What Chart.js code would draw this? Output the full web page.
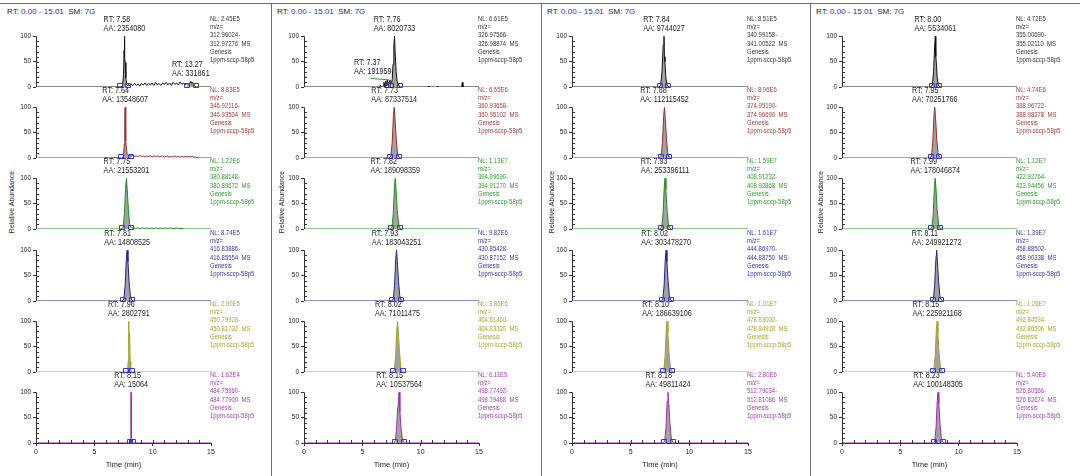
<!DOCTYPE html>
<html>
<head>
<meta charset="utf-8">
<title>SCCP chromatograms</title>
<script src="https://cdn.jsdelivr.net/npm/chart.js@4.4.1/dist/chart.umd.min.js"></script>
<style>
  html, body { margin: 0; padding: 0; background: #fff; }
  body { position: relative; width: 1080px; height: 476px; overflow: hidden;
         font-family: "Liberation Sans", Arial, sans-serif; }
  .plot { position: absolute; }
  .hdr { position: absolute; top: 7px; font-size: 8px; line-height: 10px; color: #222; white-space: nowrap; }
  .hdr span { color: #2b2bbf; }
  .ylab { position: absolute; width: 100px; height: 10px; line-height: 10px; font-size: 7px; color: #222;
          text-align: center; transform: rotate(-90deg); white-space: nowrap; }
  .sep { position: absolute; background: #6f6f6f; }
</style>
</head>
<body>
<script>
const rtWindow = "0.00 - 15.01";
const smoothing = "7G";
const sampleName = "1ppm-sccp-58p5";
const xTitle = "Time (min)";
const yTitle = "Relative Abundance";
const timeTicks = [0, 5, 10, 15];
const yTicks = [0, 50, 100];

// normalisation levels, top trace to bottom trace
const nlP1 = ["2.45E5", "8.83E5", "1.22E6", "8.74E5", "2.00E5", "1.62E4"];
const nlP2 = ["6.61E5", "6.55E6", "1.13E7", "9.82E6", "3.86E6", "6.11E5"];
const nlP3 = ["8.51E5", "8.06E6", "1.59E7", "1.61E7", "1.01E7", "2.80E6"];
const nlP4 = ["4.72E5", "4.74E6", "1.12E7", "1.39E7", "1.26E7", "5.40E6"];

// extracted m/z windows
const mzLoP1 = ["312.96024", "346.92116", "380.88148", "416.83886", "450.79928", "484.75960"];
const mzHiP1 = ["312.97276", "346.93504", "380.89672", "416.85554", "450.81732", "484.77900"];
const mzLoP2 = ["326.97566", "360.93658", "394.89690", "430.85428", "464.81460", "498.77492"];
const mzHiP2 = ["326.98874", "360.95102", "394.91270", "430.87152", "464.83320", "498.79488"];
const mzLoP3 = ["340.99158", "374.95190", "408.91232", "444.86970", "478.83002", "512.79034"];
const mzHiP3 = ["341.00522", "374.96690", "408.92868", "444.88750", "478.84918", "512.81086"];
const mzLoP4 = ["355.00690", "388.96722", "422.92764", "458.88502", "492.84534", "526.80566"];
const mzHiP4 = ["355.02110", "388.98278", "422.94456", "458.90338", "492.86506", "526.82674"];

// labelled peaks: retention time and area
const rtP1 = [7.58, 7.64, 7.75, 7.81, 7.96, 8.15];
const rtP2 = [7.76, 7.73, 7.82, 7.93, 8.02, 8.15];
const rtP3 = [7.84, 7.88, 7.93, 8.02, 8.10, 8.18];
const rtP4 = [8.00, 7.95, 7.99, 8.11, 8.15, 8.23];
const aaP1 = ["2354080", "13548607", "21553201", "14808525", "2802791", "15064"];
const aaP2 = ["8020733", "87337514", "189098359", "183043251", "71011475", "10537564"];
const aaP3 = ["9744027", "112115452", "253396111", "303478270", "186639106", "49811424"];
const aaP4 = ["5534061", "70251766", "178046874", "249921272", "225921168", "100148305"];

// integration limits (min)
const fromP1 = [7.20, 7.25, 7.40, 7.45, 7.70, 8.05];
const toP1   = [7.85, 8.15, 8.10, 8.25, 8.25, 8.30];
const fromP2 = [7.45, 7.38, 7.47, 7.58, 7.67, 7.80];
const toP2   = [8.20, 8.15, 8.25, 8.35, 8.45, 8.55];
const fromP3 = [7.50, 7.55, 7.60, 7.68, 7.75, 7.83];
const toP3   = [8.20, 8.30, 8.35, 8.45, 8.50, 8.60];
const fromP4 = [7.68, 7.60, 7.65, 7.76, 7.80, 7.88];
const toP4   = [8.30, 8.35, 8.40, 8.50, 8.55, 8.65];

// secondary labelled peaks
const extraPanel = [0, 1];
const extraTrace = [0, 0];
const extraRT = [13.27, 7.37];
const extraAA = ["331861", "191959"];
const extraFrom = [12.95, 7.20];
const extraTo = [13.70, 7.45];
const p2Baseline = [[5.7, 17], [7.3, 14]];

// traces: [time, relative abundance]
const tracesP1 = [
  [[0,0],[7.3,0],[7.42,3],[7.5,25],[7.55,72],[7.58,100],[7.61,58],[7.65,48],[7.7,18],[7.78,5],[7.88,2],[7.95,5],[8.05,2],[8.15,6],[8.3,3],[8.45,7],[8.6,3],[8.75,6],[8.9,2],[9.05,7],[9.2,4],[9.35,8],[9.5,3],[9.65,7],[9.8,4],[9.95,8],[10.1,3],[10.25,9],[10.4,4],[10.55,7],[10.7,3],[10.85,8],[11.0,5],[11.15,9],[11.3,4],[11.45,8],[11.6,3],[11.75,9],[11.9,5],[12.05,8],[12.2,4],[12.35,10],[12.5,5],[12.65,8],[12.8,4],[12.95,7],[13.1,6],[13.2,9],[13.27,11],[13.35,7],[13.45,9],[13.55,4],[13.65,2],[13.75,0],[15,0]],
  [[0,0],[5.8,0],[6.0,1],[6.3,0],[6.8,1],[7.1,0],[7.4,0],[7.5,4],[7.57,28],[7.61,78],[7.64,100],[7.67,66],[7.71,34],[7.76,15],[7.82,7],[7.9,5],[8.0,6],[8.15,4],[8.3,5],[8.45,3],[8.6,4],[8.75,3],[8.9,5],[9.05,3],[9.2,4],[9.35,2],[9.5,4],[9.65,3],[9.8,4],[9.95,2],[10.1,4],[10.25,3],[10.4,4],[10.55,2],[10.7,3],[10.85,4],[11.0,2],[11.15,3],[11.3,4],[11.45,2],[11.6,3],[11.75,2],[11.9,4],[12.05,2],[12.2,3],[12.35,2],[12.5,3],[12.65,2],[12.8,3],[12.95,2],[13.1,3],[13.25,2],[13.4,4],[13.5,1],[13.65,2],[13.8,1],[14.0,0],[15,0]],
  [[0,0],[7.35,0],[7.47,4],[7.58,30],[7.68,82],[7.75,100],[7.82,78],[7.92,38],[8.03,10],[8.12,3],[8.3,2],[8.5,1],[8.7,2],[8.9,1],[9.1,2],[9.3,1],[9.5,2],[9.7,1],[9.9,2],[10.1,1],[10.3,2],[10.5,1],[10.7,2],[10.9,1],[11.1,2],[11.3,1],[11.5,2],[11.7,1],[11.9,1],[12.1,2],[12.3,1],[12.5,1],[12.7,0],[15,0]],
  [[0,0],[7.41,0],[7.53,4],[7.64,30],[7.74,82],[7.81,100],[7.88,78],[7.98,38],[8.09,10],[8.21,2],[8.33,0],[15,0]],
  [[0,0],[7.75,0],[7.85,3],[7.9,22],[7.94,94],[7.96,100],[7.98,42],[8.01,76],[8.04,68],[8.07,22],[8.12,5],[8.2,0],[15,0]],
  [[0,0],[8.1,0],[8.13,62],[8.15,100],[8.17,8],[8.2,0],[15,0]]
];
const tracesP2 = [
  [[0,0],[6.5,0],[6.55,4],[6.6,0],[6.8,0],[6.85,9],[6.9,1],[7.0,12],[7.05,2],[7.15,14],[7.2,3],[7.3,11],[7.37,14],[7.42,5],[7.5,6],[7.56,15],[7.63,45],[7.7,80],[7.76,100],[7.82,65],[7.9,30],[7.98,12],[8.06,6],[8.15,2],[8.25,0],[10.6,0],[10.65,2],[10.7,0],[11.4,0],[11.45,2],[11.5,0],[13.48,0],[13.53,5],[13.57,9],[13.62,0],[15,0]],
  [[0,0],[7.33,0],[7.45,4],[7.56,30],[7.66,82],[7.73,100],[7.8,78],[7.9,38],[8.01,10],[8.13,2],[8.25,0],[15,0]],
  [[0,0],[7.42,0],[7.54,4],[7.65,30],[7.75,82],[7.82,100],[7.89,78],[7.99,38],[8.1,10],[8.22,2],[8.34,0],[15,0]],
  [[0,0],[7.53,0],[7.65,4],[7.76,30],[7.86,82],[7.93,100],[8.0,78],[8.1,38],[8.21,10],[8.33,2],[8.45,0],[15,0]],
  [[0,0],[7.62,0],[7.74,4],[7.85,30],[7.95,82],[8.02,100],[8.09,78],[8.19,38],[8.3,10],[8.42,2],[8.54,0],[15,0]],
  [[0,0],[7.72,0],[7.84,5],[7.94,30],[8.02,68],[8.07,74],[8.11,92],[8.15,100],[8.22,62],[8.32,28],[8.43,8],[8.55,1],[8.67,0],[15,0]]
];
const tracesP3 = [
  [[0,0],[7.44,0],[7.56,4],[7.67,30],[7.77,82],[7.84,100],[7.88,60],[7.92,50],[8.0,18],[8.1,4],[8.22,0],[15,0]],
  [[0,0],[7.48,0],[7.6,4],[7.71,30],[7.81,82],[7.88,100],[7.95,78],[8.05,38],[8.16,10],[8.28,2],[8.4,0],[15,0]],
  [[0,0],[7.53,0],[7.65,4],[7.76,30],[7.86,82],[7.93,100],[8.0,78],[8.1,38],[8.21,10],[8.33,2],[8.45,0],[15,0]],
  [[0,0],[7.62,0],[7.74,4],[7.85,30],[7.95,82],[8.02,100],[8.09,78],[8.19,38],[8.3,10],[8.42,2],[8.54,0],[15,0]],
  [[0,0],[7.7,0],[7.82,4],[7.93,30],[8.03,82],[8.1,100],[8.17,78],[8.27,38],[8.38,10],[8.5,2],[8.62,0],[15,0]],
  [[0,0],[7.78,0],[7.9,4],[8.01,30],[8.11,82],[8.18,100],[8.25,78],[8.35,38],[8.46,10],[8.58,2],[8.7,0],[15,0]]
];
const tracesP4 = [
  [[0,0],[7.62,0],[7.74,4],[7.85,30],[7.95,85],[8.0,100],[8.04,60],[8.08,50],[8.16,18],[8.26,4],[8.38,0],[15,0]],
  [[0,0],[7.55,0],[7.67,4],[7.78,30],[7.88,82],[7.95,100],[8.02,78],[8.12,38],[8.23,10],[8.35,2],[8.47,0],[15,0]],
  [[0,0],[7.59,0],[7.71,4],[7.82,30],[7.92,82],[7.99,100],[8.06,78],[8.16,38],[8.27,10],[8.39,2],[8.51,0],[15,0]],
  [[0,0],[7.71,0],[7.83,4],[7.94,30],[8.02,70],[8.07,90],[8.11,100],[8.18,78],[8.28,38],[8.39,10],[8.51,2],[8.63,0],[15,0]],
  [[0,0],[7.75,0],[7.87,4],[7.98,30],[8.08,82],[8.15,100],[8.22,78],[8.32,38],[8.43,10],[8.55,2],[8.67,0],[15,0]],
  [[0,0],[7.83,0],[7.95,4],[8.06,30],[8.16,82],[8.23,100],[8.3,78],[8.4,38],[8.51,10],[8.63,2],[8.75,0],[15,0]]
];

const tracesAll = [tracesP1, tracesP2, tracesP3, tracesP4];
const nlAll = [nlP1, nlP2, nlP3, nlP4];
const mzLoAll = [mzLoP1, mzLoP2, mzLoP3, mzLoP4];
const mzHiAll = [mzHiP1, mzHiP2, mzHiP3, mzHiP4];
const rtAll = [rtP1, rtP2, rtP3, rtP4];
const aaAll = [aaP1, aaP2, aaP3, aaP4];
const fromAll = [fromP1, fromP2, fromP3, fromP4];
const toAll = [toP1, toP2, toP3, toP4];

// layout
const PANEL_X = [0, 270, 540, 809];
const PANEL_W = [268, 268, 268, 271];
const AXIS_L = [36, 304, 572, 842];
const AXIS_R = [211, 479, 748, 1017];
const BASE = [87, 158, 229, 301, 372, 443];
const BAND = 71, PAD_TOP = 6, X_AXIS_H = 26, Y_MAX = 140;
const FONT = '"Liberation Sans", Arial, sans-serif';
const TRACE_COL = ['#111111', '#9a2a2a', '#1e8a1e', '#1f1f8f', '#a3a329', '#9b30a8'];
const TEXT_COL = ['#333333', '#a33a3a', '#2f9a2f', '#3434a8', '#a6a632', '#a53db3'];
const PEAK_FILL = '#a2a2a2';
const MARK_COL = '#3535d0';
const AXIS_COL = '#333333';
const LBL_SX = 0.8, NL_SX = 0.85;

function squashed(ctx, text, x, y, sx) {
  ctx.save();
  ctx.translate(x, y);
  ctx.scale(sx, 1);
  ctx.fillText(text, 0, 0);
  ctx.restore();
}

function peakLabel(ctx, xs, ys, pts, rt, aa, from, to, avoidX) {
  let apex = 0;
  pts.forEach(([t, v]) => { if (t >= from && t <= to && v > apex) apex = v; });
  const l1 = 'RT: ' + rt.toFixed(2), l2 = 'AA: ' + aa;
  ctx.font = '9px ' + FONT;
  const w = Math.max(ctx.measureText(l1).width, ctx.measureText(l2).width) * LBL_SX;
  let left = xs.getPixelForValue(rt) - w / 2;
  if (avoidX !== undefined && left < avoidX + 3 && left + w > avoidX - 3) left = avoidX - 3 - w;
  const py = ys.getPixelForValue(apex);
  ctx.fillStyle = '#1a1a1a';
  ctx.textAlign = 'left';
  ctx.textBaseline = 'middle';
  squashed(ctx, l1, left, py - 17, LBL_SX);
  squashed(ctx, l2, left, py - 8, LBL_SX);
}

function makePlot(p, k) {
  const last = k === 5;
  const padRight = PANEL_W[p] - (AXIS_R[p] - PANEL_X[p]);
  const padBottom = last ? 4 : 6;
  const box = document.createElement('div');
  box.className = 'plot';
  box.style.left = PANEL_X[p] + 'px';
  box.style.top = (BASE[k] - BAND - PAD_TOP) + 'px';
  box.style.width = PANEL_W[p] + 'px';
  box.style.height = (PAD_TOP + BAND + (last ? X_AXIS_H : 0) + padBottom) + 'px';
  const canvas = document.createElement('canvas');
  box.appendChild(canvas);
  document.body.appendChild(box);

  const pts = tracesAll[p][k];
  const ranges = [[fromAll[p][k], toAll[p][k]]];
  const extras = [];
  extraPanel.forEach((ep, i) => {
    if (ep === p && extraTrace[i] === k) { ranges.push([extraFrom[i], extraTo[i]]); extras.push(i); }
  });

  const datasets = [{
    data: pts.map(([x, y]) => ({x, y})),
    borderColor: TRACE_COL[k], borderWidth: 1, pointRadius: 0, fill: false, order: 1
  }];
  ranges.forEach(([a, b]) => datasets.push({
    data: pts.filter(([x]) => x >= a && x <= b).map(([x, y]) => ({x, y})),
    borderColor: 'rgba(0,0,0,0)', borderWidth: 0, backgroundColor: PEAK_FILL,
    pointRadius: 0, fill: 'origin', order: 3
  }));
  if (p === 1 && k === 0) {
    datasets.push({
      data: p2Baseline.map(([x, y]) => ({x, y})),
      borderColor: '#2ea02e', borderWidth: 1, pointRadius: 0, fill: false, order: 2
    });
  }

  const decor = {
    id: 'decor',
    afterDraw(chart) {
      const {ctx, chartArea: ca, scales: {x: xs, y: ys}} = chart;
      const y0 = ys.getPixelForValue(0);
      ctx.save();
      ctx.strokeStyle = AXIS_COL;
      ctx.lineWidth = 1;
      const ax = Math.round(ca.left) + 0.5;
      ctx.beginPath();
      ctx.moveTo(ax, y0);
      ctx.lineTo(ax, ys.getPixelForValue(100));
      for (let v = 10; v < 100; v += 10) {
        const py = Math.round(ys.getPixelForValue(v)) + 0.5;
        ctx.moveTo(ax, py);
        ctx.lineTo(ax + 2.5, py);
      }
      if (last) {
        for (let t = 1; t < 15; t++) {
          const px = Math.round(xs.getPixelForValue(t)) + 0.5;
          ctx.moveTo(px, y0);
          ctx.lineTo(px, y0 - 3);
        }
      }
      ctx.stroke();

      // integration limit markers sitting on the baseline
      ctx.strokeStyle = MARK_COL;
      ctx.beginPath();
      ranges.flat().forEach(t => {
        const px = Math.round(xs.getPixelForValue(t));
        ctx.rect(px - 2.5, Math.round(y0) - 3.5, 5, 4);
      });
      ctx.stroke();

      const mainRT = rtAll[p][k];
      peakLabel(ctx, xs, ys, pts, mainRT, aaAll[p][k], fromAll[p][k], toAll[p][k]);
      extras.forEach(i => peakLabel(ctx, xs, ys, pts, extraRT[i], extraAA[i], extraFrom[i], extraTo[i],
                                    xs.getPixelForValue(mainRT)));

      ctx.font = '7px ' + FONT;
      ctx.fillStyle = TEXT_COL[k];
      ctx.textAlign = 'left';
      ctx.textBaseline = 'middle';
      const lines = ['NL: ' + nlAll[p][k], 'm/z=', mzLoAll[p][k] + '-', mzHiAll[p][k] + '  MS', 'Genesis', sampleName];
      lines.forEach((s, i) => squashed(ctx, s, ca.right - 1, y0 - 68 + i * 8.2, NL_SX));
      ctx.restore();
    }
  };

  new Chart(canvas, {
    type: 'line',
    data: { datasets },
    options: {
      responsive: true,
      maintainAspectRatio: false,
      animation: false,
      events: [],
      layout: { padding: { left: 0, top: PAD_TOP, right: padRight, bottom: padBottom } },
      plugins: { legend: { display: false }, tooltip: { enabled: false } },
      scales: {
        x: {
          type: 'linear', min: 0, max: 15, display: last,
          afterBuildTicks: s => { s.ticks = timeTicks.map(v => ({value: v})); },
          ticks: { font: { size: 7, family: FONT }, color: '#222', padding: 2, maxRotation: 0, autoSkip: false },
          grid: { drawOnChartArea: false, drawTicks: true, tickLength: 3, color: AXIS_COL },
          border: { display: true, color: AXIS_COL },
          title: { display: true, text: xTitle, font: { size: 7.5, family: FONT }, color: '#222', padding: 0 },
          afterFit: s => {
            if (!last) return;
            s.height = X_AXIS_H;
            s.paddingLeft = 0;
            s.paddingRight = 0;
          }
        },
        y: {
          type: 'linear', min: 0, max: Y_MAX,
          afterBuildTicks: s => { s.ticks = yTicks.map(v => ({value: v})); },
          ticks: { font: { size: 6.5, family: FONT }, color: '#222', padding: 2 },
          grid: { drawOnChartArea: false, drawTicks: true, tickLength: 3, color: AXIS_COL },
          border: { display: false },
          afterFit: s => { s.width = AXIS_L[p] - PANEL_X[p]; s.paddingTop = 0; s.paddingBottom = 0; }
        }
      }
    },
    plugins: [decor]
  });
}

function addDiv(cls, css, html) {
  const d = document.createElement('div');
  d.className = cls;
  d.style.cssText = css;
  if (html) d.innerHTML = html;
  document.body.appendChild(d);
}

addDiv('sep', 'left:0;top:3px;width:1080px;height:1px');
[271, 541, 810].forEach(x => addDiv('sep', `left:${x}px;top:3px;width:1px;height:473px`));

for (let p = 0; p < 4; p++) {
  addDiv('hdr', `left:${PANEL_X[p] + 7}px`,
    `RT: <span>${rtWindow}</span>&nbsp;&nbsp;SM: <span>${smoothing}</span>`);
  addDiv('ylab', `left:${PANEL_X[p] + 12 - 50}px;top:${202 - 5}px`, yTitle);
  for (let k = 0; k < 6; k++) makePlot(p, k);
}
</script>
</body>
</html>
